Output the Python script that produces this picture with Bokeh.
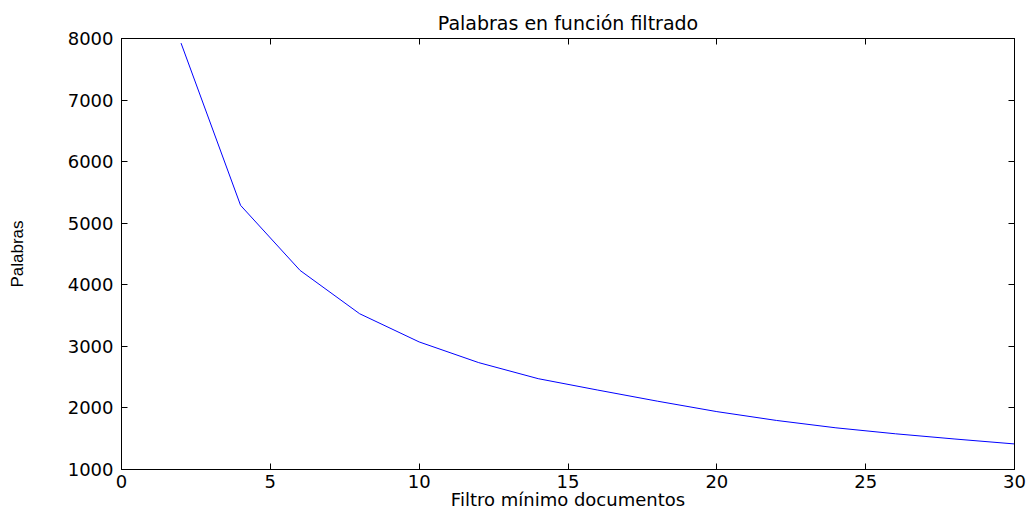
from bokeh.plotting import figure
from bokeh.models import FixedTicker, Range1d, LinearAxis
from bokeh.embed import file_html
from bokeh.resources import INLINE

# Data
filtro = [2, 4, 6, 8, 10, 12, 14, 16, 18, 20, 22, 24, 26, 28, 30]
palabras = [7925, 5290, 4233, 3530, 3072, 2736, 2475, 2290, 2110, 1940, 1797, 1677, 1580, 1495, 1415]
x_ticks = [0, 5, 10, 15, 20, 25, 30]
y_ticks = [1000, 2000, 3000, 4000, 5000, 6000, 7000, 8000]

X_MIN, X_MAX = 0, 30
Y_MIN, Y_MAX = 1000, 8000
FONT = "DejaVu Sans"
FS = "18px"

p = figure(width=1030, height=514, output_backend="svg", toolbar_location=None,
           x_range=Range1d(X_MIN, X_MAX), y_range=Range1d(Y_MIN, Y_MAX),
           min_border_left=121, min_border_right=16, min_border_top=38, min_border_bottom=45,
           x_axis_label="Filtro mínimo documentos", y_axis_label="Palabras")

p.title.text = "Palabras en función filtrado"
p.title.align = "center"
p.title.text_font = FONT
p.title.text_font_size = "19px"
p.title.text_font_style = "normal"
p.title.text_color = "black"
p.title.standoff = 10

p.line(filtro, palabras, line_color="#0000ff", line_width=1)

p.xgrid.visible = False
p.ygrid.visible = False
p.outline_line_color = "black"
p.outline_line_width = 1
p.background_fill_color = "white"
p.border_fill_color = "white"

xax = p.below[0]
yax = p.left[0]

def style(ax, ticks):
    ax.ticker = FixedTicker(ticks=ticks)
    ax.major_tick_in = 6
    ax.major_tick_out = 0
    ax.minor_tick_line_color = None
    ax.axis_line_color = "black"
    ax.major_tick_line_color = "black"

for ax, ticks in ((xax, x_ticks), (yax, y_ticks)):
    style(ax, ticks)
    ax.major_label_text_font = FONT
    ax.major_label_text_font_size = FS
    ax.major_label_text_color = "black"
    ax.axis_label_text_color = "black"
    ax.axis_label_text_font_style = "normal"

xax.major_label_standoff = 5
yax.major_label_standoff = 8
xax.axis_label_text_font = FONT
xax.axis_label_text_font_size = FS
xax.axis_label_standoff = -2
yax.axis_label_text_font = "Liberation Sans"
yax.axis_label_text_font_size = "17px"
yax.axis_label_standoff = 38

# mirrored inner ticks on the top and right edges, without labels
for loc, ticks in (("above", x_ticks), ("right", y_ticks)):
    mirror = LinearAxis()
    style(mirror, ticks)
    mirror.major_label_text_color = None
    mirror.major_label_text_font_size = "1px"
    mirror.major_label_standoff = 0
    p.add_layout(mirror, loc)

open("out.html", "w").write(file_html(p, INLINE))
